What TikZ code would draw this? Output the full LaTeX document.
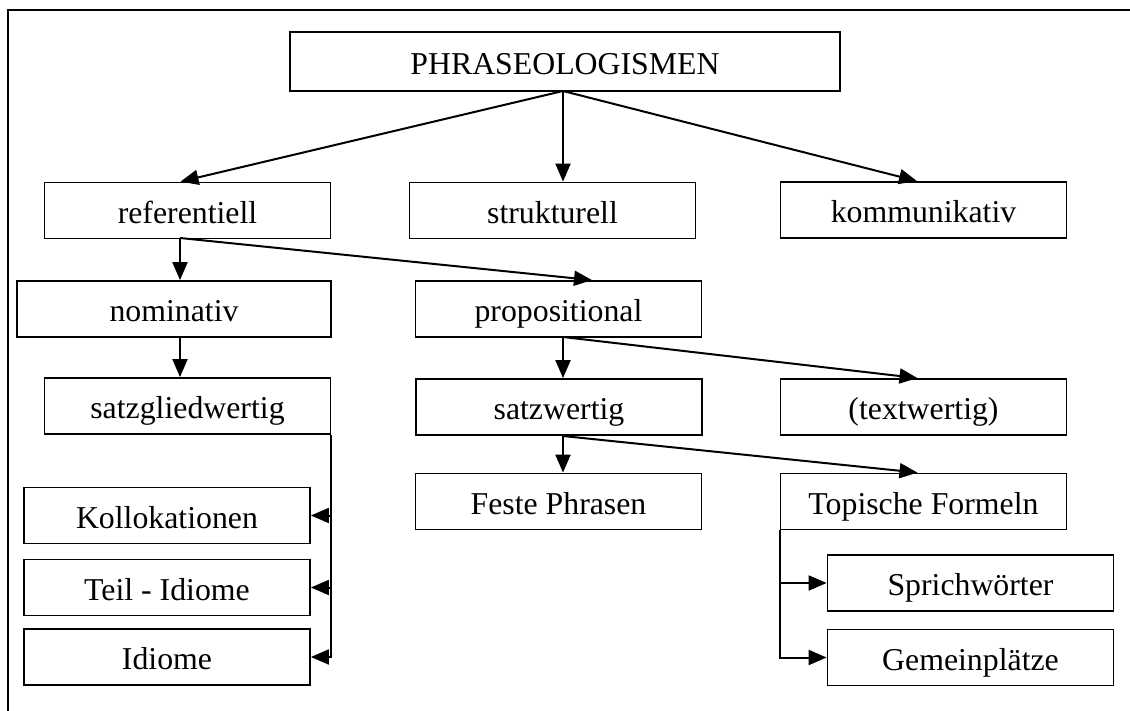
\documentclass[tikz,border=0pt]{standalone}
\usepackage{fontspec}
\setmainfont{Liberation Serif}
\usetikzlibrary{arrows.meta, positioning}
\tikzset{
box/.style={draw, line width=0.9pt, minimum height=28pt, inner sep=0pt, text height=12.8pt, text depth=0pt, font=\fontsize{15.9}{19}\selectfont},
wide box/.style={box, minimum width=143pt},
link/.style={-{Triangle[length=9pt,width=7.5pt]}, line width=1pt},
}
\begin{document}
\begin{tikzpicture}[x=0.5pt, y=-0.5pt]
\useasboundingbox (0,0) rectangle (1130,711);
\draw[line width=1pt] (8,711) -- (8,10) -- (1130,10);

\node[box, minimum width=275pt, minimum height=29.5pt] (phr) at (565,61.5) {PHRASEOLOGISMEN};
\node[wide box] (ref) at (187.5,210.5) {referentiell};
\node[wide box] (str) at (552.5,210.5) {strukturell};
\node[wide box] (kom) at (923.5,210) {kommunikativ};
\node[box, minimum width=157pt] (nom) at (174,309) {nominativ};
\node[wide box] (prop) at (558.5,309) {propositional};
\node[wide box] (sgw) at (187.5,406) {satzgliedwertig};
\node[wide box] (szw) at (559,407) {satzwertig};
\node[wide box] (txt) at (923.5,407) {(textwertig)};
\node[wide box] (fest) at (558.5,501.5) {Feste Phrasen};
\node[wide box] (topo) at (923.5,501.5) {Topische Formeln};
\node[wide box] (koll) at (167,515.5) {Kollokationen};
\node[wide box] (teil) at (167,587.5) {Teil - Idiome};
\node[wide box] (idio) at (167,657) {Idiome};
\node[wide box] (spr) at (970.5,583) {Sprichwörter};
\node[wide box] (gem) at (970.5,657.5) {Gemeinplätze};

\coordinate (p0) at (563,91);
\coordinate (r0) at (180,238);
\coordinate (pp0) at (563,337);
\coordinate (sz0) at (563,436);

\draw[link] (p0) -- ([xshift=-3.5pt]ref.north);
\draw[link] (p0) -- (p0 |- str.north);
\draw[link] (p0) -- ([xshift=-3.25pt]kom.north);
\draw[link] (r0) -- (r0 |- nom.north);
\draw[link] (r0) -- ([xshift=16.75pt]prop.north);
\draw[link] (r0 |- nom.south) -- (r0 |- sgw.north);
\draw[link] (pp0) -- (pp0 |- szw.north);
\draw[link] (pp0) -- ([xshift=-3pt]txt.north);
\draw[link] (sz0) -- (sz0 |- fest.north);
\draw[link] (sz0) -- ([xshift=-3pt]topo.north);

% brackets
\draw[link] (sgw.south east) |- (idio.east);
\draw[link] (sgw.south east |- koll.east) -- (koll.east);
\draw[link] (sgw.south east |- teil.east) -- (teil.east);
\draw[link] (topo.south west) |- (gem.west);
\draw[link] (topo.south west |- spr.west) -- (spr.west);
\end{tikzpicture}
\end{document}
